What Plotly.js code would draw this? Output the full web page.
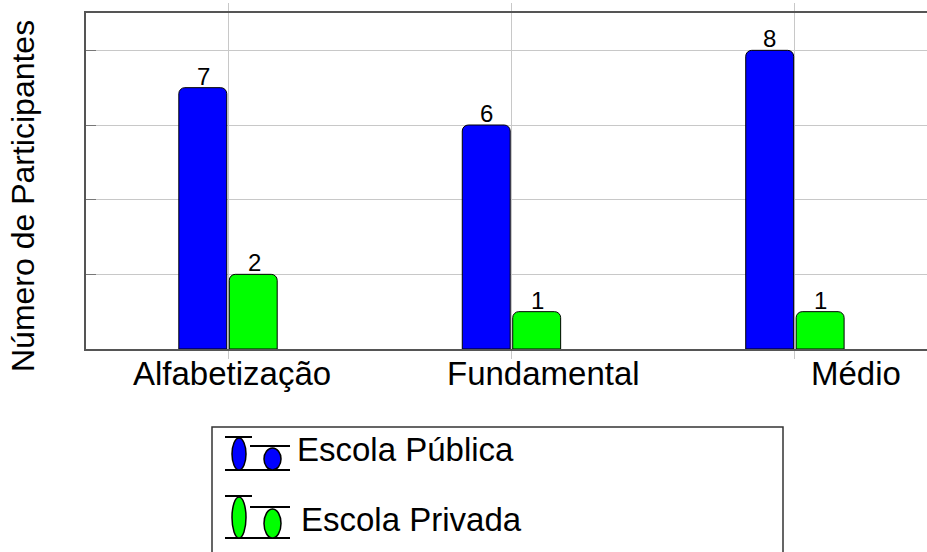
<!DOCTYPE html>
<html>
<head>
<meta charset="utf-8">
<script src="https://cdn.plot.ly/plotly-3.0.1.min.js"></script>
<style>html,body{margin:0;padding:0;background:#fff;}#chart{width:927px;height:552px;}</style>
</head>
<body>
<div id="chart"></div>
<script>
// ---- data ----
const categories = ["Alfabetização", "Fundamental", "Médio"];
const publicaValues = [7, 6, 8];
const privadaValues = [2, 1, 1];
const seriesNames = ["Escola Pública", "Escola Privada"];
const yTitle = "Número de Participantes";
const labelShifts = [4, 32, 61];

// ---- geometry helpers (pixel -> paper) ----
const L = 86, R = 927, T = 13, B = 349;
const px = v => (v - L) / (R - L);
const py = v => (B - v) / (B - T);
const FONT = "Liberation Sans, Arial, sans-serif";

const traces = [
  {type: "bar", x: categories, y: publicaValues, name: seriesNames[0],
   marker: {color: "#0000ff", line: {color: "#000", width: 1}},
   showlegend: false, hoverinfo: "x+y"},
  {type: "bar", x: categories, y: privadaValues, name: seriesNames[1],
   marker: {color: "#00ff00", line: {color: "#000", width: 1}},
   showlegend: false, hoverinfo: "x+y"}
];

const annotations = categories.map((c, i) => ({
  xref: "x", yref: "paper", x: c, y: py(373), xshift: labelShifts[i],
  text: c, showarrow: false, xanchor: "center", yanchor: "middle",
  font: {family: FONT, size: 33, color: "#000"}
}));
// value labels on bars
[publicaValues, privadaValues].forEach((vals, s) => {
  vals.forEach((v, i) => annotations.push({
    xref: "x", yref: "y", x: categories[i], y: v, xshift: s === 0 ? -25 : 26, yshift: -4,
    text: String(v), showarrow: false, xanchor: "center", yanchor: "bottom",
    font: {family: FONT, size: 24, color: "#000"}
  }));
});
annotations.push({
  xref: "paper", yref: "paper", x: px(23), y: py(196), text: yTitle, textangle: -90,
  showarrow: false, xanchor: "center", yanchor: "middle",
  font: {family: FONT, size: 32, color: "#000"}
});
annotations.push({xref: "paper", yref: "paper", x: px(295), y: py(449), text: seriesNames[0],
  showarrow: false, xanchor: "left", yanchor: "middle", font: {family: FONT, size: 33, color: "#000"}});
annotations.push({xref: "paper", yref: "paper", x: px(299), y: py(519), text: seriesNames[1],
  showarrow: false, xanchor: "left", yanchor: "middle", font: {family: FONT, size: 33, color: "#000"}});

const shapes = [];
// legend box
shapes.push({type: "rect", xref: "paper", yref: "paper", x0: px(212), x1: px(783), y0: py(427), y1: py(570),
  line: {color: "#333", width: 1.5}, fillcolor: "rgba(0,0,0,0)"});
function icon(color, top, midTop, bottom) {
  shapes.push({type: "line", xref: "paper", yref: "paper", x0: px(225), x1: px(252), y0: py(top), y1: py(top), line: {color: "#000", width: 2}});
  shapes.push({type: "line", xref: "paper", yref: "paper", x0: px(250), x1: px(290), y0: py(midTop), y1: py(midTop), line: {color: "#000", width: 2}});
  shapes.push({type: "line", xref: "paper", yref: "paper", x0: px(225), x1: px(290), y0: py(bottom), y1: py(bottom), line: {color: "#000", width: 2}});
  shapes.push({type: "circle", xref: "paper", yref: "paper", x0: px(232), x1: px(246), y0: py(top + 1), y1: py(bottom), fillcolor: color, line: {color: "#000", width: 1.5}});
  shapes.push({type: "circle", xref: "paper", yref: "paper", x0: px(264), x1: px(281), y0: py(midTop + 2), y1: py(bottom), fillcolor: color, line: {color: "#000", width: 1.5}});
}
icon("#0000ff", 437, 446, 470);
icon("#00ff00", 496, 507, 538);

const layout = {
  width: 927, height: 552,
  margin: {l: L, r: 927 - R, t: T, b: 552 - B, pad: 0},
  paper_bgcolor: "#fff", plot_bgcolor: "#fff",
  barmode: "group", bargap: 0.644, bargroupgap: 0.05, barcornerradius: 6,
  showlegend: false,
  xaxis: {
    range: [-0.501, 2.466], showticklabels: false,
    showgrid: true, gridcolor: "#c8c8c8", gridwidth: 1,
    ticks: "outside", ticklen: 8, tickcolor: "#c8c8c8", tickwidth: 1,
    showline: true, linecolor: "#555", linewidth: 2, mirror: "ticks", zeroline: false
  },
  yaxis: {
    range: [0, 9], dtick: 2, tick0: 0, showticklabels: false,
    showgrid: true, gridcolor: "#c8c8c8", gridwidth: 1,
    ticks: "inside", ticklen: 10, tickcolor: "#777", tickwidth: 1,
    showline: true, linecolor: "#555", linewidth: 2, zeroline: false
  },
  annotations: annotations,
  shapes: shapes
};

Plotly.newPlot("chart", traces, layout, {displayModeBar: false, staticPlot: true});
</script>
</body>
</html>
